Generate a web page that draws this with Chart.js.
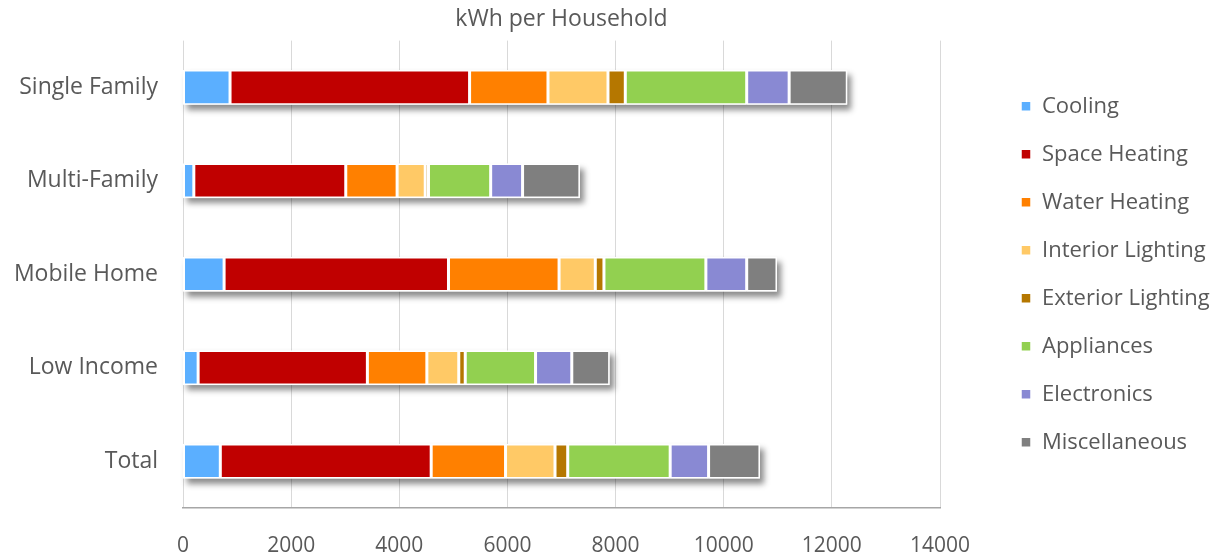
<!DOCTYPE html>
<html>
<head>
<meta charset="utf-8">
<script src="https://cdn.jsdelivr.net/npm/chart.js@4.4.1/dist/chart.umd.min.js"></script>
<style>
  html, body { margin: 0; padding: 0; background: #fff; }
</style>
</head>
<body>
<canvas id="kwhChart" width="1223" height="560"></canvas>
<script>
// categories and end-use values (kWh per household)
const categories = ['Single Family', 'Multi-Family', 'Mobile Home', 'Low Income', 'Total'];
const seriesNames = ['Cooling', 'Space Heating', 'Water Heating', 'Interior Lighting',
  'Exterior Lighting', 'Appliances', 'Electronics', 'Miscellaneous'];
const cooling = [870, 200, 760, 280, 690];
const spaceHeating = [4430, 2810, 4150, 3130, 3900];
const waterHeating = [1450, 950, 2045, 1100, 1375];
const interiorLighting = [1110, 520, 670, 590, 915];
const exteriorLighting = [320, 60, 160, 120, 235];
const appliances = [2245, 1150, 1885, 1300, 1895];
const electronics = [785, 590, 755, 670, 710];
const miscellaneous = [1075, 1060, 560, 700, 950];
const xTicks = [0, 2000, 4000, 6000, 8000, 10000, 12000, 14000];

const seriesValues = [cooling, spaceHeating, waterHeating, interiorLighting,
  exteriorLighting, appliances, electronics, miscellaneous];
const seriesColors = ['#5BAFFF', '#C00000', '#FF8000', '#FFC966',
  '#B57700', '#92D050', '#8989D3', '#7F7F7F'];

Chart.defaults.font.family = "'Open Sans', sans-serif";
Chart.defaults.color = '#595959';

// drop shadow behind each whole stacked bar
const barShadow = {
  id: 'barShadow',
  beforeDatasetsDraw(chart) {
    const ctx = chart.ctx;
    const first = chart.getDatasetMeta(0);
    const last = chart.getDatasetMeta(chart.data.datasets.length - 1);
    ctx.save();
    ctx.shadowColor = 'rgba(0, 0, 0, 0.45)';
    ctx.shadowBlur = 6;
    ctx.shadowOffsetX = 4;
    ctx.shadowOffsetY = 5;
    ctx.fillStyle = '#fff';
    first.data.forEach((bar, i) => {
      const end = last.data[i];
      const x0 = chart.scales.x.getPixelForValue(0);
      const h = bar.height;
      ctx.fillRect(x0, bar.y - h / 2, end.x - x0, h);
    });
    ctx.restore();
  }
};

// move the legend out to where the reference has it
const legendShift = {
  id: 'legendShift',
  afterLayout(chart) {
    const lg = chart.legend;
    const shift = 1021 - (lg.left + lg.options.labels.padding);
    lg.left += shift;
    lg.right += shift;
  }
};

new Chart(document.getElementById('kwhChart'), {
  type: 'bar',
  data: {
    labels: categories,
    datasets: seriesNames.map((name, i) => ({
      label: name,
      data: seriesValues[i],
      backgroundColor: seriesColors[i],
      borderColor: '#ffffff',
      borderWidth: 1.5,
      borderSkipped: false
    }))
  },
  options: {
    responsive: false,
    animation: false,
    indexAxis: 'y',
    layout: { padding: 0 },
    datasets: {
      bar: { categoryPercentage: 1, barPercentage: 0.37 }
    },
    scales: {
      x: {
        stacked: true,
        min: 0,
        max: 14000,
        afterBuildTicks(scale) {
          scale.ticks = xTicks.map(v => ({ value: v }));
        },
        afterFit(scale) {
          scale.paddingRight = 283;
          scale.height = 52;
        },
        grid: { color: '#d9d9d9', drawTicks: false },
        border: { color: '#a6a6a6', width: 1.5 },
        ticks: {
          padding: 25,
          font: { size: 21 },
          color: '#595959',
          callback: v => String(v)
        }
      },
      y: {
        stacked: true,
        afterFit(scale) {
          scale.width = 183;
        },
        grid: { display: false, drawTicks: false },
        border: { display: false },
        ticks: { padding: 25, font: { size: 23 }, color: '#595959' }
      }
    },
    plugins: {
      title: {
        display: true,
        fullSize: false,
        text: 'kWh per Household',
        color: '#595959',
        font: { size: 23, weight: 'normal' },
        padding: { top: 6, bottom: 7 }
      },
      legend: {
        position: 'right',
        fullSize: false,
        labels: {
          boxWidth: 10,
          boxHeight: 10,
          padding: 26,
          color: '#595959',
          font: { size: 22 }
        }
      },
      tooltip: { enabled: false }
    }
  },
  plugins: [barShadow, legendShift]
});
</script>
</body>
</html>
